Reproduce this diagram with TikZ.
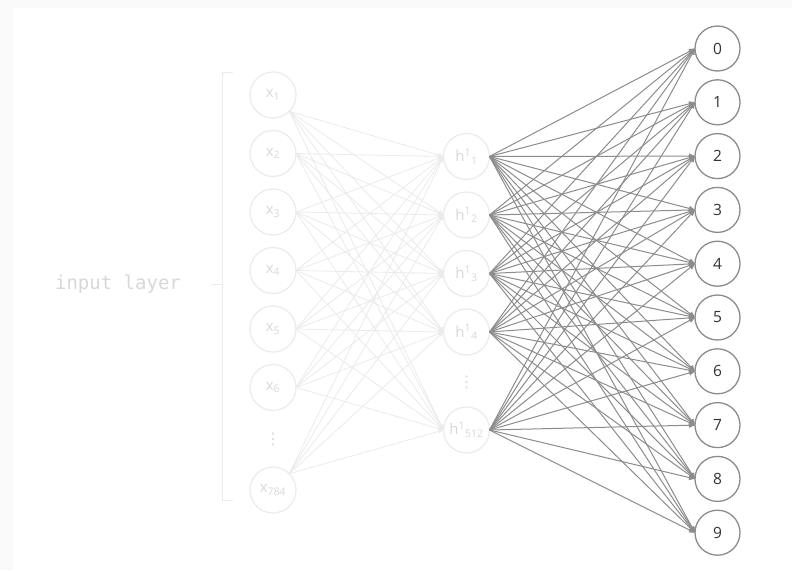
\documentclass[tikz,border=0pt]{standalone}
\usepackage{fontspec}
\setmainfont{Open Sans}
\setmonofont{DejaVu Sans Mono}
\newfontfamily\dotsfont{DejaVu Sans}
\usetikzlibrary{arrows.meta,positioning}
\definecolor{frame}{HTML}{F9F9F9}
\definecolor{faint}{HTML}{EBEBEB}
\definecolor{faint text}{HTML}{D8D8D8}
\definecolor{wire}{HTML}{8C8C8C}
\definecolor{digit}{HTML}{333333}
\tikzset{
    input node/.style = {
        circle,
        draw = faint,
        line width = 1.2pt,
        minimum size = 46pt,
        inner sep = 0pt,
        outer sep = 0pt,
        text = faint text,
        font = \fontsize{15}{15}\selectfont,
        },
    hidden node/.style = {
        input node,
        },
    output node/.style = {
        circle,
        draw = wire,
        line width = 1.3pt,
        minimum size = 45pt,
        inner sep = 0pt,
        outer sep = 0pt,
        text = digit,
        font = \fontsize{15.5}{15.5}\selectfont,
        },
    more/.style = {
        text = faint text,
        font = \dotsfont\fontsize{16}{16}\selectfont,
        inner sep = 0pt,
        },
    input edge/.style = {
        draw = faint,
        line width = 0.8pt,
        -{Triangle[length=5pt,width=4pt]},
        },
    output edge/.style = {
        draw = wire,
        line width = 1pt,
        -{Triangle[length=6pt,width=5pt]},
        },
    bracket/.style = {
        draw = faint,
        line width = 1pt,
        },
}

\begin{document}
\begin{tikzpicture}[x=1pt, y=-1pt]
    % frame
    \fill[frame] (0,0) rectangle (792,570);
    \fill[white] (13,8) rectangle (792,570);

    % input layer
    \node[input node] (x1) at (273,95) {x\textsubscript{1}};
    \node[input node, below=12.5pt of x1] (x2) {x\textsubscript{2}};
    \node[input node, below=12.5pt of x2] (x3) {x\textsubscript{3}};
    \node[input node, below=12.5pt of x3] (x4) {x\textsubscript{4}};
    \node[input node, below=12.5pt of x4] (x5) {x\textsubscript{5}};
    \node[input node, below=12.5pt of x5] (x6) {x\textsubscript{6}};
    \node[more] (in) at (273,440) {⋮};
    \node[input node] (x784) at (273,490) {x\textsubscript{784}};

    % hidden layer
    \node[hidden node] (h1) at (466.5,156.5) {h\textsuperscript{1}\textsubscript{1}};
    \node[hidden node, below=12.5pt of h1] (h2) {h\textsuperscript{1}\textsubscript{2}};
    \node[hidden node, below=12.5pt of h2] (h3) {h\textsuperscript{1}\textsubscript{3}};
    \node[hidden node, below=12.5pt of h3] (h4) {h\textsuperscript{1}\textsubscript{4}};
    \node[more] (hn) at (466.5,383) {⋮};
    \node[hidden node] (h512) at (466.5,430) {h\textsuperscript{1}\textsubscript{512}};

    % output layer
    \node[output node] (o0) at (717.5,48.5) {0};
    \foreach \k [remember=\k as \p (initially 0)] in {1,...,9}
        \node[output node, below=8.8pt of o\p] (o\k) {\k};

    % bracket and label
    \draw[bracket] (233,72) -- (222,72) -- (222,500) -- (233,500);
    \draw[bracket] (222,284) -- (211,284);
    \node[text=faint text, font=\ttfamily\fontsize{19}{19}\selectfont] (label) at (118,284) {input layer};

    % edges
    \foreach \i/\a in {1/south east,2/east,3/east,4/east,5/east,6/east,784/north east}
        \foreach \j in {1,2,3,4,512}
            \path[input edge] (x\i.\a) -- (h\j.west);
    \foreach \j in {1,2,3,4,512}
        \foreach \k in {0,...,9}
            \path[output edge] (h\j.east) -- (o\k.west);
\end{tikzpicture}
\end{document}
